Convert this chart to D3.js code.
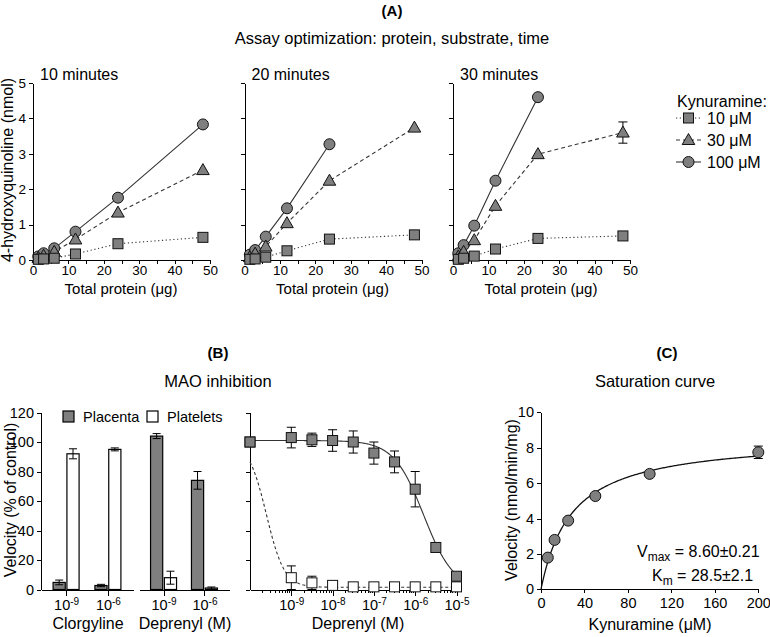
<!DOCTYPE html>
<html>
<head>
<meta charset="utf-8">
<script src="https://cdn.jsdelivr.net/npm/d3@7"></script>
<style>
  body { margin: 0; background: #fff; }
  svg { font-family: "Liberation Sans", Arial, sans-serif; }
  .axis path, .axis line { stroke: #000; stroke-width: 1; shape-rendering: crispEdges; }
  .axis text { font-size: 14.5px; fill: #000; }
  .axisA text { font-size: 13.5px; }
</style>
</head>
<body>
<svg id="fig" width="770" height="637"></svg>
<script>
// ---------- data: panel A (4-hydroxyquinoline, nmol) ----------
const proteinUg = [1.5, 3, 6, 12, 24, 48];
const kynLabels = ["10 μM", "30 μM", "100 μM"];

const min10_10uM  = [0.02, 0.03, 0.05, 0.17, 0.46, 0.64];
const min10_30uM  = [0.06, 0.12, 0.23, 0.58, 1.34, 2.54];
const min10_100uM = [0.10, 0.19, 0.33, 0.80, 1.76, 3.83];

const min20_10uM  = [0.02, 0.03, 0.08, 0.26, 0.59, 0.71];
const min20_30uM  = [0.08, 0.18, 0.38, 1.04, 2.24, 3.74];
const min20_100uM = [0.15, 0.28, 0.66, 1.46, 3.27];

const min30_10uM  = [0.02, 0.05, 0.11, 0.31, 0.61, 0.68];
const min30_30uM  = [0.10, 0.23, 0.56, 1.53, 2.99, 3.60];
const min30_100uM = [0.19, 0.42, 0.97, 2.24, 4.60];
const min30_30uM_sd = [0, 0, 0, 0, 0, 0.30];

// ---------- data: panel B (velocity, % of control) ----------
const inhibitors = ["Clorgyline", "Deprenyl (M)"];
const barDoseExp = ["-9", "-6"];
const clorgPlacenta = [4.8, 2.7];
const clorgPlacentaSd = [1.6, 0.8];
const clorgPlatelets = [92, 95];
const clorgPlateletsSd = [3.4, 1];
const deprPlacenta = [104, 74];
const deprPlacentaSd = [1.7, 6];
const deprPlatelets = [8, 1];
const deprPlateletsSd = [4.4, 0.7];

// first concentration is the control, drawn on the axis origin
const deprenylConc = [1e-10, 1e-9, 3.16e-9, 1e-8, 3.16e-8, 1e-7, 3.16e-7, 1e-6, 3.16e-6, 1e-5];
const drPlacenta   = [100, 103, 101.5, 101, 100, 92.5, 86.5, 68, 28.5, 9];
const drPlacentaSd = [0, 7, 4.5, 7.3, 7.5, 7.5, 7.4, 12, 0, 0];
const drPlatelets  = [100, 8, 4.5, 2.8, 1.8, 1.8, 1.8, 1.8, 1.8, 1.8];
const drPlateletsSd = [0, 8, 4.5, 0, 0, 0, 0, 0, 0, 0];
// fitted dose-response parameters
const placentaFit = { top: 101, bottom: 0, ic50: 1.6e-6, hill: 1.2 };
const plateletFit = { top: 100, bottom: 1.5, ic50: 2.5e-10, hill: 2 };

// ---------- data: panel C (saturation) ----------
const kynConc = [6.25, 12.5, 25, 50, 100, 200];
const satVelocity = [1.79, 2.79, 3.88, 5.27, 6.52, 7.74];
const satSd = [0, 0, 0, 0, 0, 0.35];
const vmax = 8.60, km = 28.5;

// ---------- drawing ----------
const svg = d3.select("#fig");
const markFill = "#7f7f7f";
const lineCol = "#333";

function label(x, y, s, size, anchor, weight) {
  return svg.append("text").attr("x", x).attr("y", y)
    .attr("font-size", size).attr("text-anchor", anchor || "middle")
    .attr("font-weight", weight || "normal").text(s);
}

function vLabel(x, y, s, size) {
  return svg.append("text").attr("transform", `translate(${x},${y}) rotate(-90)`)
    .attr("font-size", size).attr("text-anchor", "middle").text(s);
}

function marker(g, shape, cx, cy, fill) {
  if (shape === "circle") {
    g.append("circle").attr("cx", cx).attr("cy", cy).attr("r", 5.5)
      .attr("fill", fill).attr("stroke", "#111");
  } else if (shape === "square") {
    g.append("rect").attr("x", cx - 5).attr("y", cy - 5).attr("width", 10).attr("height", 10)
      .attr("fill", fill).attr("stroke", "#111");
  } else {
    g.append("path").attr("transform", `translate(${cx},${cy})`)
      .attr("d", "M0,-6.5L6.3,4.5L-6.3,4.5Z")
      .attr("fill", fill).attr("stroke", "#111");
  }
}

function errBar(g, cx, y1, y2, cap) {
  g.append("line").attr("x1", cx).attr("x2", cx).attr("y1", y1).attr("y2", y2)
    .attr("stroke", "#000");
  [y1, y2].forEach(yy => g.append("line").attr("x1", cx - cap).attr("x2", cx + cap)
    .attr("y1", yy).attr("y2", yy).attr("stroke", "#000"));
}

function supTicks(sel, expOf) {
  sel.selectAll(".tick text").each(function (d) {
    const t = d3.select(this).text(null).attr("font-size", "14px");
    t.append("tspan").text("10");
    t.append("tspan").attr("dy", "-0.5em").attr("font-size", "10px").text(expOf(d));
  });
}

// ===== Panel A =====
label(392, 16, "(A)", "15px", "middle", "bold");
label(392, 44, "Assay optimization: protein, substrate, time", "16.5px");

const aPlots = [
  { x0: 33,    name: "10 minutes", s10: min10_10uM, s30: min10_30uM, s100: min10_100uM, labels: true },
  { x0: 244.5, name: "20 minutes", s10: min20_10uM, s30: min20_30uM, s100: min20_100uM, labels: false },
  { x0: 453,   name: "30 minutes", s10: min30_10uM, s30: min30_30uM, s100: min30_100uM, labels: false }
];
const yA = d3.scaleLinear().domain([0, 5]).range([260, 83]);

aPlots.forEach(p => {
  const x = d3.scaleLinear().domain([0, 50]).range([p.x0, p.x0 + 177]);
  const g = svg.append("g");

  g.append("g").attr("class", "axis axisA").attr("transform", "translate(0,260)")
    .call(d3.axisBottom(x).tickValues(d3.range(0, 51, 5)).tickSize(4).tickSizeOuter(0).tickPadding(1)
      .tickFormat(d => d % 10 === 0 ? d : ""));
  g.append("g").attr("class", "axis axisA").attr("transform", `translate(${p.x0},0)`)
    .call(d3.axisLeft(yA).tickValues(d3.range(0, 6)).tickSize(4).tickSizeOuter(0)
      .tickFormat(p.labels ? d3.format("d") : ""));

  const series = [
    { vals: p.s100, shape: "circle", dash: null },
    { vals: p.s30, shape: "triangle", dash: "4,3" },
    { vals: p.s10, shape: "square", dash: "1.2,2.6" }
  ];
  const line = d3.line().x(d => x(d[0])).y(d => yA(d[1]));
  series.forEach(s => {
    const pts = s.vals.map((v, i) => [proteinUg[i], v]);
    g.append("path").attr("d", line(pts)).attr("fill", "none")
      .attr("stroke", lineCol).attr("stroke-width", 1.1)
      .attr("stroke-dasharray", s.dash);
  });
  if (p.name === "30 minutes") {
    min30_30uM_sd.forEach((sd, i) => {
      if (sd > 0) errBar(g, x(proteinUg[i]), yA(min30_30uM[i] + sd), yA(min30_30uM[i] - sd), 4.5);
    });
  }
  series.forEach(s => {
    s.vals.forEach((v, i) => marker(g, s.shape, x(proteinUg[i]), yA(v), markFill));
  });

  label(p.x0 + 7, 80, p.name, "16px", "start");
  label(p.x0 + 88, 294, "Total protein (μg)", "15px");
});
vLabel(13, 170, "4-hydroxyquinoline (nmol)", "16px");

// legend A
const legA = svg.append("g");
legA.append("text").attr("x", 677).attr("y", 107).attr("font-size", "16px").text("Kynuramine:");
[["square", "1.2,2.6"], ["triangle", "4,3"], ["circle", null]].forEach((e, i) => {
  const yy = 118 + i * 22;
  legA.append("line").attr("x1", 676).attr("x2", 701).attr("y1", yy).attr("y2", yy)
    .attr("stroke", lineCol).attr("stroke-width", 1.1).attr("stroke-dasharray", e[1]);
  marker(legA, e[0], 688.5, yy, markFill);
  legA.append("text").attr("x", 707).attr("y", yy + 5.5).attr("font-size", "16px").text(kynLabels[i]);
});

// ===== Panel B =====
label(218, 358, "(B)", "15px", "middle", "bold");
label(218, 387, "MAO inhibition", "16.5px");

const yB = d3.scaleLinear().domain([0, 120]).range([589.5, 412.5]);
svg.append("g").attr("class", "axis").attr("transform", "translate(41,0)")
  .call(d3.axisLeft(yB).tickValues(d3.range(0, 121, 20)).tickSize(4).tickSizeOuter(0));
vLabel(16, 500, "Velocity (% of control)", "16px");

const barGroups = [
  { name: inhibitors[0], range: [41, 133], placenta: clorgPlacenta, placentaSd: clorgPlacentaSd,
    platelets: clorgPlatelets, plateletsSd: clorgPlateletsSd },
  { name: inhibitors[1], range: [139, 229], placenta: deprPlacenta, placentaSd: deprPlacentaSd,
    platelets: deprPlatelets, plateletsSd: deprPlateletsSd }
];
const sub = d3.scaleBand().domain(["Placenta", "Platelets"]).range([-13, 13]).paddingInner(0.12);

barGroups.forEach(grp => {
  const xp = d3.scalePoint().domain(barDoseExp).range(grp.range).padding(0.6);
  const g = svg.append("g");
  g.append("g").attr("class", "axis").attr("transform", "translate(0,589.5)")
    .call(d3.axisBottom(xp).tickSize(6).tickSizeOuter(0).tickPadding(4))
    .call(sel => supTicks(sel, d => d));
  [["Placenta", grp.placenta, grp.placentaSd, markFill], ["Platelets", grp.platelets, grp.plateletsSd, "#fff"]]
    .forEach(([k, vals, sds, fill]) => {
      vals.forEach((v, i) => {
        const bx = xp(barDoseExp[i]) + sub(k);
        g.append("rect").attr("x", bx).attr("y", yB(v))
          .attr("width", sub.bandwidth()).attr("height", yB(0) - yB(v))
          .attr("fill", fill).attr("stroke", "#000").attr("stroke-width", 1.2);
        errBar(g, bx + sub.bandwidth() / 2, yB(v + sds[i]), yB(Math.max(0, v - sds[i])), 4);
      });
    });
  label((grp.range[0] + grp.range[1]) / 2 + 1, 629, grp.name, "16px");
});

// legend B
const legB = svg.append("g");
[["Placenta", markFill, 63], ["Platelets", "#fff", 147]].forEach(([n, f, lx]) => {
  legB.append("rect").attr("x", lx).attr("y", 411).attr("width", 11).attr("height", 11)
    .attr("fill", f).attr("stroke", "#000").attr("stroke-width", 1.2);
  legB.append("text").attr("x", lx + 20).attr("y", 421.5).attr("font-size", "14.5px").text(n);
});

// dose response
const xL = d3.scaleLog().domain([1e-10, 1e-5]).range([250, 456.5]);
const gd = svg.append("g");
gd.append("g").attr("class", "axis").attr("transform", "translate(250,0)")
  .call(d3.axisLeft(yB).tickValues(d3.range(0, 121, 20)).tickSize(4).tickSizeOuter(0).tickFormat(""));
const majors = [1e-9, 1e-8, 1e-7, 1e-6, 1e-5];
const minors = [];
d3.range(-10, -5).forEach(n => d3.range(2, 10).forEach(k => minors.push(k * Math.pow(10, n))));
gd.append("g").attr("class", "axis").attr("transform", "translate(0,589.5)")
  .call(d3.axisBottom(xL).tickValues(minors).tickSize(3.5).tickSizeOuter(0).tickFormat(""));
gd.append("g").attr("class", "axis").attr("transform", "translate(0,589.5)")
  .call(d3.axisBottom(xL).tickValues(majors).tickSize(6).tickSizeOuter(0).tickPadding(4))
  .call(sel => supTicks(sel, d => String(Math.round(Math.log10(d)))));
label(358, 629, "Deprenyl (M)", "16px");

function hillCurve(p) {
  return d3.range(-10, -4.999, 0.02).map(l => {
    const c = Math.pow(10, l);
    return [c, p.bottom + (p.top - p.bottom) / (1 + Math.pow(c / p.ic50, p.hill))];
  });
}
const drLine = d3.line().x(d => xL(d[0])).y(d => yB(d[1]));
gd.append("path").attr("d", drLine(hillCurve(plateletFit))).attr("fill", "none")
  .attr("stroke", lineCol).attr("stroke-width", 1.1).attr("stroke-dasharray", "3,2.5");
gd.append("path").attr("d", drLine(hillCurve(placentaFit))).attr("fill", "none")
  .attr("stroke", lineCol).attr("stroke-width", 1.1);

[[drPlatelets, drPlateletsSd, "#fff"], [drPlacenta, drPlacentaSd, markFill]].forEach(([vals, sds, fill]) => {
  vals.forEach((v, i) => {
    if (sds[i] > 0) errBar(gd, xL(deprenylConc[i]), yB(v + sds[i]), yB(Math.max(0, v - sds[i])), 4.5);
  });
  vals.forEach((v, i) => marker(gd, "square", xL(deprenylConc[i]), yB(v), fill));
});

// ===== Panel C =====
label(667, 358, "(C)", "15px", "middle", "bold");
label(655, 387, "Saturation curve", "16.5px");

const xC = d3.scaleLinear().domain([0, 200]).range([541, 758.3]);
const yC = d3.scaleLinear().domain([0, 10]).range([589.3, 412.3]);
const gc = svg.append("g");
gc.append("g").attr("class", "axis").attr("transform", "translate(0,589.3)")
  .call(d3.axisBottom(xC).tickValues(d3.range(0, 201, 40)).tickSize(4).tickSizeOuter(0).tickPadding(4));
gc.append("g").attr("class", "axis").attr("transform", "translate(541,0)")
  .call(d3.axisLeft(yC).tickValues(d3.range(0, 11, 2)).tickSize(4).tickSizeOuter(0));
vLabel(517, 500, "Velocity (nmol/min/mg)", "16px");
label(650, 630, "Kynuramine (μM)", "16px");

const mmLine = d3.line().x(d => xC(d)).y(d => yC(vmax * d / (km + d)));
gc.append("path").attr("d", mmLine(d3.range(0, 200.1, 1))).attr("fill", "none")
  .attr("stroke", "#111").attr("stroke-width", 1.3);
satSd.forEach((sd, i) => {
  if (sd > 0) errBar(gc, xC(kynConc[i]), yC(satVelocity[i] + sd), yC(satVelocity[i] - sd), 4.5);
});
satVelocity.forEach((v, i) => marker(gc, "circle", xC(kynConc[i]), yC(v), markFill));

const vt = svg.append("text").attr("x", 637).attr("y", 557).attr("font-size", "16px");
vt.append("tspan").text("V");
vt.append("tspan").attr("dy", 4).attr("font-size", "12px").text("max");
vt.append("tspan").attr("dy", -4).text(" = 8.60±0.21");
const kt = svg.append("text").attr("x", 652).attr("y", 581).attr("font-size", "16px");
kt.append("tspan").text("K");
kt.append("tspan").attr("dy", 4).attr("font-size", "12px").text("m");
kt.append("tspan").attr("dy", -4).text(" = 28.5±2.1");
</script>
</body>
</html>
